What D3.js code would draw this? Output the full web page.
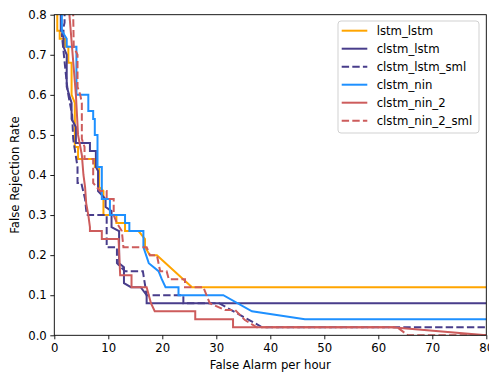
<!DOCTYPE html>
<html>
<head>
<meta charset="utf-8">
<script src="https://cdn.jsdelivr.net/npm/d3@7"></script>
<style>
  body { margin: 0; background: #fff; }
  text { font-family: "DejaVu Sans", sans-serif; fill: #000; }
</style>
</head>
<body>
<div id="chart"></div>
<script>
// Data: [false alarms per hour, false rejection rate]
var lstm_lstm = [[0.55,1],[0.55,0.76],[1.0,0.76],[1.0,0.74],[2.0,0.74],[2.0,0.72],[2.6,0.72],[2.6,0.68],
  [3.2,0.68],[3.2,0.60],[3.8,0.58],[3.8,0.47],[4.4,0.47],[4.4,0.44],[7.5,0.44],[7.5,0.42],[8.3,0.42],
  [8.3,0.37],[9.1,0.36],[9.1,0.30],[11.5,0.30],[11.5,0.28],[13.1,0.28],[13.1,0.26],[15.6,0.26],
  [16.8,0.24],[16.8,0.22],[17.7,0.20],[19.0,0.20],[25.5,0.12],[80,0.12]];
var clstm_lstm = [[1.2,1],[1.2,0.76],[1.7,0.76],[1.7,0.72],[2.3,0.70],[2.3,0.62],[3.2,0.58],[3.2,0.54],
  [4.0,0.52],[4.0,0.48],[6.6,0.48],[6.6,0.46],[7.7,0.46],[7.7,0.42],[8.1,0.41],[8.1,0.36],[9.5,0.34],
  [9.5,0.32],[10.6,0.31],[10.6,0.27],[12.0,0.26],[12.0,0.18],[12.9,0.17],[12.9,0.13],[14.2,0.12],
  [16.0,0.12],[17.1,0.10],[17.1,0.08],[80,0.08]];
var clstm_lstm_sml = [[1.9,1],[1.9,0.78],[1.4,0.75],[2.3,0.63],[2.6,0.60],[3.3,0.55],[3.5,0.49],[4.3,0.42],
  [4.3,0.38],[5.0,0.38],[5.7,0.34],[6.0,0.30],[9.7,0.30],[9.7,0.22],[11.6,0.22],[11.6,0.18],[13.1,0.16],
  [16.4,0.16],[17.1,0.10],[23.9,0.10],[23.9,0.08],[30.5,0.08],[38.5,0.02],[80,0.02]];
var clstm_nin = [[1.4,1],[1.4,0.76],[2.3,0.74],[2.3,0.72],[4.1,0.72],[4.1,0.60],[6.3,0.60],[6.3,0.56],
  [7.2,0.56],[7.2,0.54],[7.5,0.54],[7.5,0.50],[8.0,0.50],[8.0,0.42],[8.8,0.42],[8.8,0.34],[10.3,0.34],
  [10.3,0.30],[13.1,0.30],[13.1,0.28],[13.9,0.28],[13.9,0.26],[16.5,0.26],[16.5,0.22],[17.5,0.18],
  [19.3,0.16],[19.9,0.14],[20.6,0.12],[23.0,0.12],[23.0,0.10],[31.3,0.10],[36.6,0.06],[46.4,0.04],[80,0.04]];
var clstm_nin_2 = [[2.8,1],[2.8,0.80],[4.0,0.60],[4.4,0.50],[5.1,0.45],[5.4,0.40],[5.7,0.37],[5.9,0.33],
  [6.3,0.30],[6.6,0.27],[6.6,0.26],[8.8,0.26],[8.8,0.24],[11.9,0.24],[12.2,0.15],[14.3,0.15],[14.3,0.12],
  [17.1,0.12],[17.5,0.10],[17.9,0.08],[18.6,0.06],[26.1,0.06],[26.1,0.04],[33.1,0.04],[33.1,0.02],
  [62.5,0.02],[80,0.0]];
var clstm_nin_2_sml = [[3.5,1],[3.5,0.80],[3.6,0.72],[4.3,0.70],[4.3,0.62],[4.8,0.60],[5.1,0.58],[5.1,0.49],
  [5.6,0.47],[5.6,0.44],[7.2,0.44],[7.2,0.38],[8.5,0.36],[9.7,0.36],[9.7,0.34],[11.0,0.34],[11.0,0.30],
  [11.6,0.28],[12.5,0.26],[12.8,0.22],[17.1,0.22],[17.7,0.20],[19.0,0.20],[19.6,0.16],[20.8,0.16],
  [21.2,0.14],[24.2,0.14],[24.2,0.12],[27.6,0.12],[28.8,0.08],[31.6,0.063],[33.5,0.063],[35.3,0.038],
  [37.5,0.02],[63.5,0.02],[65.5,0.0],[80,0.0]];

var seriesNames = ["lstm_lstm", "clstm_lstm", "clstm_lstm_sml", "clstm_nin", "clstm_nin_2", "clstm_nin_2_sml"];
var seriesValues = [lstm_lstm, clstm_lstm, clstm_lstm_sml, clstm_nin, clstm_nin_2, clstm_nin_2_sml];
var seriesColors = ["#FFA500", "#483D8B", "#483D8B", "#1E90FF", "#CD5C5C", "#CD5C5C"];
var seriesDashed = [false, false, true, false, false, true];
var xTicks = [0, 10, 20, 30, 40, 50, 60, 70, 80];
var yTicks = [0.0, 0.1, 0.2, 0.3, 0.4, 0.5, 0.6, 0.7, 0.8];

var series = seriesNames.map(function(n, i) {
  return { name: n, values: seriesValues[i], color: seriesColors[i], dashed: seriesDashed[i] };
});

// Layout
var W = 489, H = 372;
var margin = { top: 14.7, right: 2.7, bottom: 36.7, left: 54.3 };
var width = W - margin.left - margin.right,
  height = H - margin.top - margin.bottom,
  fontSize = 11.7;

var svg = d3.select("#chart").append("svg")
  .attr("width", W).attr("height", H);
var g = svg.append("g")
  .attr("transform", "translate(" + margin.left + "," + margin.top + ")");

var x = d3.scaleLinear().domain([0, 80]).range([0, width]);
var y = d3.scaleLinear().domain([0, 0.8]).range([height, 0]);

g.append("clipPath").attr("id", "plotclip")
  .append("rect").attr("width", width).attr("height", height);

var line = d3.line()
  .x(function(d) { return x(d[0]); })
  .y(function(d) { return y(d[1]); });

g.append("g").attr("clip-path", "url(#plotclip)")
  .selectAll("path")
  .data(series)
  .enter()
  .append("path")
  .attr("d", function(d) { return line(d.values); })
  .attr("fill", "none")
  .attr("stroke", function(d) { return d.color; })
  .attr("stroke-width", 2)
  .attr("stroke-linejoin", "miter")
  .attr("stroke-dasharray", function(d) { return d.dashed ? "7.4,3.2" : null; });

// Axes
var xAxis = g.append("g")
  .attr("transform", "translate(0," + height + ")")
  .call(d3.axisBottom(x).tickValues(xTicks).tickSize(4).tickPadding(4.5).tickFormat(d3.format("d")));
var yAxis = g.append("g")
  .call(d3.axisLeft(y).tickValues(yTicks).tickSize(4).tickPadding(3.5).tickFormat(d3.format(".1f")));
[xAxis, yAxis].forEach(function(a) {
  a.select(".domain").remove();
  a.selectAll(".tick line").attr("stroke", "#000").attr("stroke-width", 0.9);
  a.selectAll(".tick text").attr("font-size", fontSize).attr("font-family", "DejaVu Sans").attr("fill", "#000");
});

// Frame
g.append("rect")
  .attr("width", width).attr("height", height)
  .attr("fill", "none").attr("stroke", "#000").attr("stroke-width", 0.9);

// Axis labels
svg.append("text")
  .attr("x", margin.left + width / 2).attr("y", H - 3)
  .attr("text-anchor", "middle").attr("font-size", fontSize)
  .text("False Alarm per hour");
svg.append("text")
  .attr("transform", "translate(19," + (margin.top + height / 2) + ") rotate(-90)")
  .attr("text-anchor", "middle").attr("font-size", fontSize)
  .text("False Rejection Rate");

// Legend
var legend = svg.append("g").attr("transform", "translate(338,21)");
legend.append("rect")
  .attr("width", 141).attr("height", 112).attr("rx", 3)
  .attr("fill", "#fff").attr("fill-opacity", 0.8)
  .attr("stroke", "#ccc").attr("stroke-width", 0.9);
var item = legend.selectAll("g.item")
  .data(series)
  .enter()
  .append("g")
  .attr("class", "item")
  .attr("transform", function(d, i) { return "translate(0," + (9.7 + i * 18) + ")"; });
item.append("line")
  .attr("x1", 3.7).attr("x2", 29.3)
  .attr("stroke", function(d) { return d.color; })
  .attr("stroke-width", 2)
  .attr("stroke-dasharray", function(d) { return d.dashed ? "7.4,3.2" : null; });
item.append("text")
  .attr("x", 38.7).attr("y", 4.2)
  .attr("font-size", fontSize)
  .text(function(d) { return d.name; });
</script>
</body>
</html>
